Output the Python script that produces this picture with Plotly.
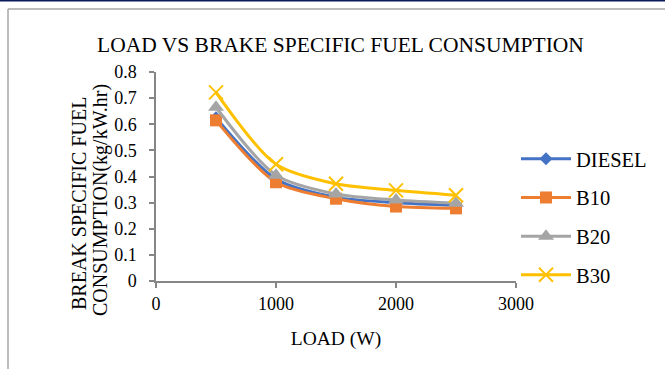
import plotly.graph_objects as go

loads = [500, 1000, 1500, 2000, 2500]
diesel = [0.625, 0.39, 0.32, 0.30, 0.29]
b10 = [0.615, 0.378, 0.315, 0.285, 0.278]
b20 = [0.665, 0.405, 0.333, 0.31, 0.298]
b30 = [0.722, 0.447, 0.372, 0.347, 0.328]

series = [
    ("DIESEL", diesel, "#4472C4", "diamond", 10),
    ("B10", b10, "#ED7D31", "square", 12),
    ("B20", b20, "#A5A5A5", "triangle-up", 14),
    ("B30", b30, "#FFC000", "x-thin", 14),
]

fig = go.Figure()
for i, (name, vals, color, sym, size) in enumerate(series):
    marker = dict(symbol=sym, size=size, color=color)
    if sym == "x-thin":
        marker["line"] = dict(color=color, width=2)
    fig.add_trace(go.Scatter(
        x=loads, y=vals, name=name, mode="lines+markers",
        line=dict(color=color, width=3, shape="spline", smoothing=0.8),
        marker=marker, legendgroup=f"g{i}",
    ))

font = "Liberation Serif, Times New Roman, serif"
axis_color = "#868686"

fig.update_layout(
    width=665, height=369,
    margin=dict(l=156, r=149, t=72, b=88),
    paper_bgcolor="white", plot_bgcolor="white",
    font=dict(family=font, color="black", size=17),
    title=dict(text="LOAD VS BRAKE SPECIFIC FUEL CONSUMPTION",
               x=0.512, xanchor="center", y=1 - 44 / 369, yanchor="middle",
               font=dict(size=21.5, family=font, color="black")),
    xaxis=dict(range=[0, 3000], tickvals=[0, 1000, 2000, 3000],
               showgrid=False, zeroline=False, showline=True,
               linecolor=axis_color, linewidth=1.5, ticks="outside",
               tickcolor=axis_color, ticklen=5, tickwidth=1.5,
               tickfont=dict(size=18, family=font), ticklabelstandoff=1,
               title=dict(text="LOAD (W)", font=dict(size=19.5, family=font), standoff=18)),
    yaxis=dict(range=[0, 0.8], tickvals=[0, 0.1, 0.2, 0.3, 0.4, 0.5, 0.6, 0.7, 0.8],
               ticktext=["0", "0.1", "0.2", "0.3", "0.4", "0.5", "0.6", "0.7", "0.8"],
               showgrid=False, zeroline=False, showline=True,
               linecolor=axis_color, linewidth=1.5, ticks="outside",
               tickcolor=axis_color, ticklen=5, tickwidth=1.5,
               tickfont=dict(size=18, family=font), ticklabelstandoff=9),
    legend=dict(x=1.0, xanchor="left", y=(281 - 217) / 209, yanchor="middle",
                font=dict(size=20.5, family=font), traceorder="grouped",
                tracegroupgap=9, bgcolor="rgba(0,0,0,0)", itemwidth=50),
    showlegend=True,
)

# y axis title as two lines
fig.add_annotation(text="BREAK SPECIFIC FUEL", xref="paper", yref="paper",
                   x=(79 - 156) / 360, y=(281 - 204) / 209, textangle=-90,
                   showarrow=False, xanchor="center", yanchor="middle",
                   font=dict(size=20, family=font, color="black"))
fig.add_annotation(text="CONSUMPTION(kg/kW.hr)", xref="paper", yref="paper",
                   x=(100 - 156) / 360, y=(281 - 200) / 209, textangle=-90,
                   showarrow=False, xanchor="center", yanchor="middle",
                   font=dict(size=20, family=font, color="black"))

# chart border and top line
fig.add_shape(type="line", xref="paper", yref="paper",
              x0=(8 - 156) / 360, x1=(665 - 156) / 360,
              y0=(281 - 9) / 209, y1=(281 - 9) / 209,
              line=dict(color="#A6A6A6", width=1.5))
fig.add_shape(type="line", xref="paper", yref="paper",
              x0=(8 - 156) / 360, x1=(8 - 156) / 360,
              y0=(281 - 9) / 209, y1=(281 - 369) / 209,
              line=dict(color="#A6A6A6", width=1.5))
fig.add_shape(type="line", xref="paper", yref="paper",
              x0=-0.5, x1=1.5,
              y0=(281 - 0.5) / 209, y1=(281 - 0.5) / 209,
              line=dict(color="#0B1A5C", width=2))

fig.write_html("out.html")
